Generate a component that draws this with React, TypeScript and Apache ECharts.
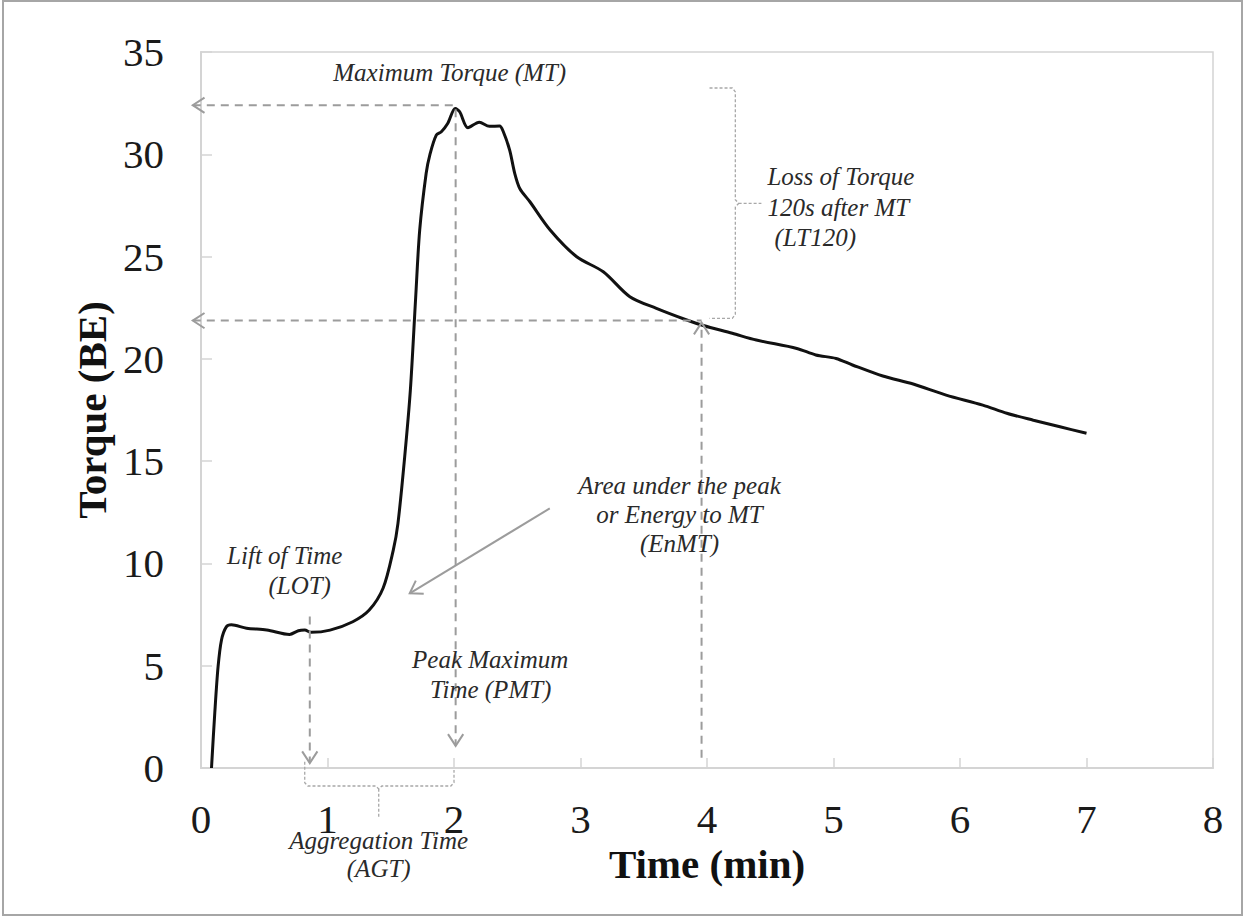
import React, { useEffect, useRef } from "react";
import * as echarts from "echarts";

// ---- data ----
const timeMin = [0.083, 0.109, 0.135, 0.162, 0.2, 0.24, 0.36, 0.52, 0.7, 0.77, 0.82, 0.87, 1.02, 1.2, 1.33, 1.44, 1.52, 1.557, 1.61, 1.655, 1.697, 1.729, 1.78, 1.81, 1.86, 1.9, 1.95, 2.01, 2.045, 2.11, 2.2, 2.28, 2.36, 2.39, 2.44, 2.48, 2.52, 2.6, 2.76, 2.97, 3.18, 3.39, 3.6, 3.84, 3.97, 4.2, 4.39, 4.71, 4.86, 5.02, 5.15, 5.39, 5.63, 5.89, 6.18, 6.37, 6.58, 6.79, 7.0];
const torque = [0, 2.7, 4.95, 6.26, 6.9, 7.0, 6.83, 6.75, 6.53, 6.71, 6.74, 6.63, 6.74, 7.15, 7.72, 8.8, 10.65, 11.96, 15.2, 18.47, 23.0, 26.3, 29.07, 30.0, 30.94, 31.1, 31.5, 32.24, 32.08, 31.3, 31.57, 31.37, 31.38, 31.1, 30.2, 29.07, 28.33, 27.68, 26.3, 24.99, 24.26, 23.04, 22.47, 21.9, 21.63, 21.25, 20.92, 20.51, 20.19, 20.02, 19.7, 19.16, 18.77, 18.23, 17.74, 17.34, 17.0, 16.68, 16.36];

const xMin = 0, xMax = 8, xStep = 1;
const yMin = 0, yMax = 35, yStep = 5;

// annotation anchors (data units: min, BE)
const arrowLeftT = -0.065;
const mtLevel = 32.4;
const peakTime = 2.013;
const peakTorque = 32.2;
const pmtArrowTip = 1.08;
const lt120Time = 3.957;
const lt120Level = 21.87;
const lotTime = 0.86;
const lotTop = 7.4;
const lotArrowTip = 0.24;
const enmtFrom = [2.757, 12.69];
const enmtTip = [1.65, 8.54];

const agtBracket = [[0.82, 0.3], [0.82, -0.72], [0.845, -0.88], [1.38, -0.88], [1.405, -1.02], [1.43, -0.88], [1.975, -0.88], [2.0, -0.72], [2.0, -0.1]];
const agtStem = [[1.405, -1.02], [1.405, -2.44]];
const ltBracket = [[4.02, 33.24], [4.2, 33.24], [4.224, 33.05], [4.224, 27.78], [4.25, 27.6], [4.224, 27.42], [4.224, 22.17], [4.2, 21.98], [4.02, 21.98]];
const ltStem = [[4.25, 27.6], [4.43, 27.6]];

const noteLines: [string, number, number, string][] = [
  ["Maximum Torque (MT)", 1.966, 34.02, "center"],
  ["Loss of Torque", 4.478, 28.89, "left"],
  ["120s after MT", 4.478, 27.42, "left"],
  ["(LT120)", 4.534, 25.95, "left"],
  ["Area under the peak", 3.783, 13.83, "center"],
  ["or Energy to MT", 3.783, 12.37, "center"],
  ["(EnMT)", 3.783, 10.95, "center"],
  ["Lift of Time", 0.662, 10.41, "center"],
  ["(LOT)", 0.78, 8.94, "center"],
  ["Peak Maximum", 2.286, 5.28, "center"],
  ["Time (PMT)", 2.29, 3.86, "center"],
  ["Aggregation Time", 1.405, -3.52, "center"],
  ["(AGT)", 1.405, -4.89, "center"],
];

const SERIF = "'Liberation Serif', 'Times New Roman', serif";

export default function App() {
  const ref = useRef<HTMLDivElement>(null);
  useEffect(() => {
    if (!ref.current) return;
    const chart = echarts.init(ref.current, null, { renderer: "svg" });
    const axisGray = "#d4d4d4";
    chart.setOption({
      animation: false,
      backgroundColor: "#ffffff",
      grid: {
        left: 201, top: 52, right: 31, bottom: 149,
        show: true, borderColor: axisGray, borderWidth: 1.5, backgroundColor: "transparent",
      },
      xAxis: {
        type: "value", min: xMin, max: xMax, interval: xStep,
        name: "Time (min)", nameLocation: "middle", nameGap: 70,
        nameTextStyle: { fontFamily: SERIF, fontWeight: "bold", fontSize: 41, color: "#111" },
        axisLine: { show: true, lineStyle: { color: axisGray, width: 2 } },
        axisTick: { show: true, inside: true, length: 10, lineStyle: { color: axisGray, width: 1.5 } },
        axisLabel: { fontFamily: SERIF, fontSize: 41, color: "#1a1a1a", margin: 30 },
        splitLine: { show: false },
      },
      yAxis: {
        type: "value", min: yMin, max: yMax, interval: yStep,
        name: "Torque (BE)", nameLocation: "middle", nameGap: 88,
        nameTextStyle: { fontFamily: SERIF, fontWeight: "bold", fontSize: 41, color: "#111" },
        axisLine: { show: true, lineStyle: { color: axisGray, width: 2 } },
        axisTick: { show: true, inside: true, length: 11, lineStyle: { color: axisGray, width: 1.5 } },
        axisLabel: { fontFamily: SERIF, fontSize: 41, color: "#1a1a1a", margin: 37 },
        splitLine: { show: false },
      },
      series: [
        {
          type: "line",
          data: timeMin.map((t, i) => [t, torque[i]]),
          showSymbol: false,
          smooth: 0.3,
          lineStyle: { color: "#111", width: 3 },
          z: 5,
        },
      ],
    });

    const px = (pt: number[]) => chart.convertToPixel({ gridIndex: 0 }, pt) as number[];
    const dash = { stroke: "#9c9c9c", lineWidth: 2, lineDash: [8, 6], fill: "none" };
    const thin = { stroke: "#a8a8a8", lineWidth: 1.3, lineDash: [3, 2], fill: "none" };
    const solid = { stroke: "#9c9c9c", lineWidth: 2, fill: "none" };
    const els: any[] = [];
    const poly = (pts: number[][], style: any) => {
      els.push({ type: "polyline", silent: true, z: 10, shape: { points: pts.map(px) }, style });
    };
    const chevron = (tip: number[], from: number[]) => {
      const a = px(tip), b = px(from);
      const dx = a[0] - b[0], dy = a[1] - b[1];
      const len = Math.hypot(dx, dy) || 1;
      const ux = dx / len, uy = dy / len;
      const L = 14, ang = (33 * Math.PI) / 180;
      const rot = (s: number) => [
        a[0] - L * (ux * Math.cos(s) - uy * Math.sin(s)),
        a[1] - L * (ux * Math.sin(s) + uy * Math.cos(s)),
      ];
      els.push({ type: "polyline", silent: true, z: 10, shape: { points: [rot(ang), a, rot(-ang)] }, style: { stroke: "#9c9c9c", lineWidth: 2, fill: "none" } });
    };

    // MT horizontal
    poly([[arrowLeftT, mtLevel], [peakTime, mtLevel]], dash);
    chevron([arrowLeftT, mtLevel], [peakTime, mtLevel]);
    // PMT vertical
    poly([[peakTime, peakTorque], [peakTime, pmtArrowTip]], dash);
    chevron([peakTime, pmtArrowTip], [peakTime, peakTorque]);
    // LT120 horizontal
    poly([[arrowLeftT, lt120Level], [lt120Time, lt120Level]], dash);
    chevron([arrowLeftT, lt120Level], [lt120Time, lt120Level]);
    // vertical up to LT120 point
    poly([[lt120Time, 0.5], [lt120Time, lt120Level - 0.1]], dash);
    chevron([lt120Time, lt120Level - 0.1], [lt120Time, 0.5]);
    // LOT
    poly([[lotTime, lotTop], [lotTime, lotArrowTip]], dash);
    chevron([lotTime, lotArrowTip], [lotTime, lotTop]);
    // EnMT arrow
    poly([enmtFrom, enmtTip], solid);
    chevron(enmtTip, enmtFrom);
    // brackets
    poly(agtBracket, thin);
    poly(agtStem, thin);
    poly(ltBracket, thin);
    poly(ltStem, thin);

    noteLines.forEach(([text, t, v, align]) => {
      const p = px([t, v]);
      els.push({
        type: "text", silent: true, z: 11, x: p[0], y: p[1],
        style: {
          text, fill: "#2a2a2a", fontFamily: SERIF, fontStyle: "italic", fontSize: 25,
          align, textAlign: align, verticalAlign: "middle", textVerticalAlign: "middle",
        },
      });
    });

    // outer frame
    els.push({ type: "rect", silent: true, z: 1, shape: { x: 3, y: 1, width: 1239, height: 914 }, style: { stroke: "#a6a6a6", lineWidth: 2, fill: "none" } });

    chart.setOption({ graphic: els });
    return () => chart.dispose();
  }, []);
  return <div ref={ref} style={{ position: "fixed", left: 0, top: 0, width: 1244, height: 917 }} />;
}
